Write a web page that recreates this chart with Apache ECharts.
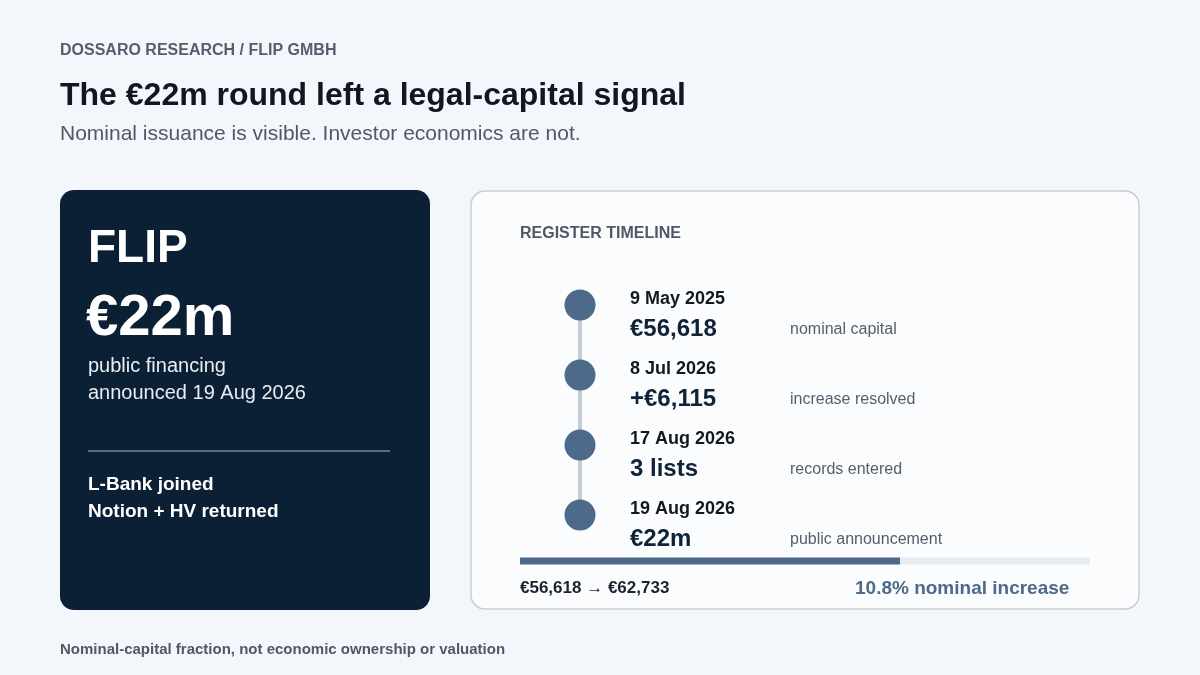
<!DOCTYPE html>
<html>
<head>
<meta charset="utf-8">
<script src="https://cdn.jsdelivr.net/npm/echarts@6/dist/echarts.min.js"></script>
<style>html,body{margin:0;background:#f3f6fa}#main{width:1200px;height:675px}</style>
</head>
<body>
<div id="main"></div>
<script>
var dates = ['9 May 2025', '8 Jul 2026', '17 Aug 2026', '19 Aug 2026'];
var values = ['€56,618', '+€6,115', '3 lists', '€22m'];
var notes = ['nominal capital', 'increase resolved', 'records entered', 'public announcement'];
var steps = [0, 1, 2, 3];
var progressDone = [66.7];
var progressRest = [33.3];

var font = 'Liberation Sans, Arial, sans-serif';
var chart = echarts.init(document.getElementById('main'));

var texts = [];
function txt(x, y, s, size, color, weight) {
    texts.push({type: 'text', left: x, top: y, z: 10,
        style: {text: s, font: (weight || 'normal') + ' ' + size + 'px ' + font, fill: color}});
}
txt(60, 43, 'DOSSARO RESEARCH / FLIP GMBH', 16, '#545e6c', 'bold');
txt(60, 80, 'The €22m round left a legal-capital signal', 32, '#0f1723', 'bold');
txt(60, 124, 'Nominal issuance is visible. Investor economics are not.', 21, '#4f5966');
txt(60, 642, 'Nominal-capital fraction, not economic ownership or valuation', 15, '#4f5966', 'bold');
// left panel
txt(88, 226, 'FLIP', 46, '#ffffff', 'bold');
txt(86, 290, '€22m', 58, '#ffffff', 'bold');
txt(88, 356, 'public financing', 20, '#e8edf3');
txt(88, 383, 'announced 19 Aug 2026', 20, '#e8edf3');
txt(88, 475, 'L-Bank joined', 19, '#ffffff', 'bold');
txt(88, 502, 'Notion + HV returned', 19, '#ffffff', 'bold');
// right panel
txt(520, 226, 'REGISTER TIMELINE', 16, '#4f5966', 'bold');
for (var i = 0; i < dates.length; i++) {
    var y = 290 + i * 70;
    txt(630, y, dates[i], 18, '#111822', 'bold');
    txt(630, y + 27, values[i], 24, '#0f2238', 'bold');
    txt(790, y + 32, notes[i], 16, '#545e6c');
}
txt(520, 580, '€56,618 → €62,733', 17, '#1a2430', 'bold');
txt(855, 579, '10.8% nominal increase', 19, '#4d6a8a', 'bold');

var option = {
    animation: false,
    backgroundColor: '#f3f6fa',
    graphic: [
        {type: 'rect', shape: {x: 60, y: 190, width: 370, height: 420, r: 14}, style: {fill: '#0b1f35'}},
        {type: 'line', shape: {x1: 88, y1: 451, x2: 390, y2: 451}, style: {stroke: '#6f86a2', lineWidth: 1.5}},
        {type: 'rect', shape: {x: 471, y: 191, width: 668, height: 418, r: 14},
            style: {fill: '#fbfcfe', stroke: '#c8ced6', lineWidth: 1.5}}
    ].concat(texts),
    grid: [
        {left: 570, width: 20, top: 305, height: 210},
        {left: 520, width: 570, top: 555, height: 12}
    ],
    xAxis: [
        {gridIndex: 0, type: 'value', min: 0, max: 1, show: false},
        {gridIndex: 1, type: 'value', min: 0, max: 100, show: false}
    ],
    yAxis: [
        {gridIndex: 0, type: 'value', min: 0, max: 3, inverse: true, show: false},
        {gridIndex: 1, type: 'category', data: ['p'], show: false}
    ],
    series: [
        {type: 'line', xAxisIndex: 0, yAxisIndex: 0, z: 3,
            data: steps.map(function (s) { return [0.5, s]; }),
            symbol: 'circle', symbolSize: 31,
            lineStyle: {color: '#c5ccd5', width: 4},
            itemStyle: {color: '#4d6a8a'}},
        {type: 'bar', xAxisIndex: 1, yAxisIndex: 1, stack: 'p', barWidth: 7,
            data: progressDone, itemStyle: {color: '#4d6a8a'}},
        {type: 'bar', xAxisIndex: 1, yAxisIndex: 1, stack: 'p', barWidth: 7,
            data: progressRest, itemStyle: {color: '#e6ebf0'}}
    ]
};
chart.setOption(option);
</script>
</body>
</html>
